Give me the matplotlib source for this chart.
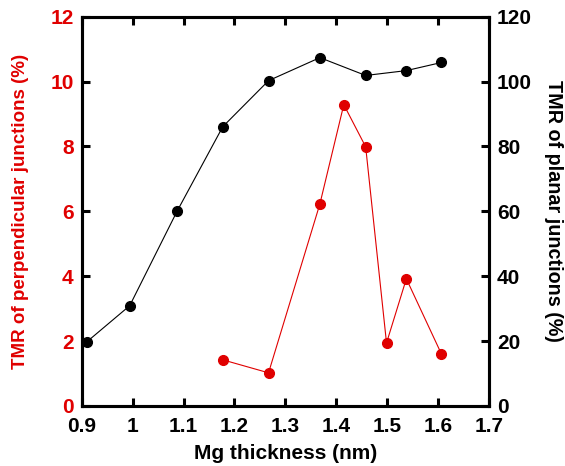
import matplotlib
matplotlib.use("Agg")
from matplotlib import pyplot as plt

# Mg thickness (nm)
mg_planar = [0.91, 0.994, 1.087, 1.177, 1.267, 1.368, 1.458, 1.538, 1.607]
tmr_planar = [19.8, 30.9, 60.0, 86.1, 100.3, 107.4, 101.9, 103.4, 105.9]

mg_perp = [1.177, 1.267, 1.368, 1.415, 1.458, 1.499, 1.538, 1.607]
tmr_perp = [1.42, 1.02, 6.23, 9.29, 7.99, 1.94, 3.92, 1.60]

x_ticks = [0.9, 1.0, 1.1, 1.2, 1.3, 1.4, 1.5, 1.6, 1.7]
x_labels = ["0.9", "1", "1.1", "1.2", "1.3", "1.4", "1.5", "1.6", "1.7"]

red = "#e00000"
plt.rcParams['font.family'] = ['Liberation Sans', 'DejaVu Sans']
plt.rcParams['font.weight'] = 'bold'

fig = plt.figure(figsize=(5.65, 4.66), dpi=100)
ax = fig.add_axes([0.145, 0.129, 0.72, 0.835])
ax2 = ax.twinx()

ax2.plot(mg_planar, tmr_planar, color='black', lw=0.8, marker='o', ms=7)
ax.plot(mg_perp, tmr_perp, color=red, lw=0.8, marker='o', ms=7)

ax.set_xlim(0.9, 1.7)
ax.set_ylim(0, 12)
ax2.set_ylim(0, 120)
ax.set_xticks(x_ticks)
ax.set_xticklabels(x_labels)
ax.set_yticks(range(0, 13, 2))
ax2.set_yticks(range(0, 121, 20))

for a in (ax, ax2):
    for s in a.spines.values():
        s.set_linewidth(2.2)
ax.tick_params(axis='x', direction='in', length=6, width=2.2, top=True,
               labelsize=15, pad=8)
ax.tick_params(axis='y', direction='in', length=6, width=2.2,
               labelsize=15, labelcolor=red, pad=6)
ax2.tick_params(axis='y', direction='in', length=6, width=2.2,
                labelsize=15, pad=6)

ax.set_xlabel('Mg thickness (nm)', fontsize=15, fontweight='bold', labelpad=6)
ax.set_ylabel('TMR of perpendicular junctions (%)', fontsize=13.5,
              fontweight='bold', color=red, labelpad=15)
ax2.set_ylabel('TMR of planar junctions (%)', fontsize=14.2,
               fontweight='bold', rotation=270, labelpad=22)

fig.savefig('out.png', dpi=100)
